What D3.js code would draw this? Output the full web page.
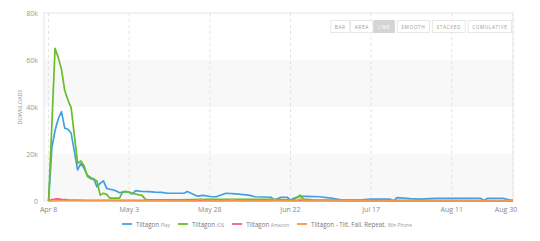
<!DOCTYPE html>
<html>
<head>
<meta charset="utf-8">
<script src="https://cdnjs.cloudflare.com/ajax/libs/d3/7.8.5/d3.min.js"></script>
<style>
  body { margin: 0; background: #fff; }
  svg { display: block; font-family: "Open Sans", "DejaVu Sans", sans-serif; }
</style>
</head>
<body>
<svg id="chart" width="540" height="241"></svg>
<script>
// day offsets from Apr 8, values in downloads
var playDays = [0,1,2,3,4,5,6,7,8,9,10,11,12,13,14,15,16,17,18,19,20,21,22,23,24,25,26,27,28,29,31,33,35,37,40,42,43,46,48,50,52,55,58,62,64,69,70,72,74,75,76,78,80,84,88,91,93,97,100,104,106,107,108,112,115,120,125,130,134,135,136,141,143,144];
var playVals = [0,22500,30000,35000,38000,31000,30500,28800,21000,13200,16000,13900,11000,10000,9400,6000,7500,8600,5400,5000,4700,4300,3500,3800,4000,3600,3000,4400,4200,4100,4000,3800,3700,3300,3300,3300,4000,2100,2400,1900,1800,3300,3000,2500,1800,1600,400,1600,1600,400,1100,2000,2000,1800,1100,400,400,500,800,800,800,0,1400,1000,800,1100,1100,1100,1100,200,1100,1100,400,300];

var iosDays = [0,1,2,3,4,5,6,7,9,10,11,12,13,14,15,16,17,18,19,22,23,24,25,26,28,29,30,31,40,50,60,70,76,77,78,79,82,90,110,144];
var iosVals = [0,32000,65000,61000,56000,47000,43000,39600,16000,17000,15000,10500,9500,9200,8500,2500,3300,2800,1200,1200,4000,4000,3800,3300,2600,2400,700,500,500,700,700,700,500,1500,2500,800,500,300,200,100];

var amazonDays = [0,1,2,3,4,5,6,8,12,20,40,80,144];
var amazonVals = [0,600,800,900,700,600,500,400,300,250,200,150,100];

var winDays = [0,5,30,46,47,48,56,57,58,69,70,71,77,78,79,100,144];
var winVals = [0,100,200,100,900,200,150,700,200,150,600,200,200,900,200,200,200];

var tickDays = [0,25,50,75,100,125,144];
var yTicks = [0,20000,40000,60000,80000];
var buttons = ["BAR","AREA","LINE","SMOOTH","STACKED","CUMULATIVE"];

var series = [
  {name: "Tiltagon", sub: "Play", days: playDays, vals: playVals, color: "#42a0e0"},
  {name: "Tiltagon", sub: "iOS", days: iosDays, vals: iosVals, color: "#66bf2a"},
  {name: "Tiltagon", sub: "Amazon", days: amazonDays, vals: amazonVals, color: "#f25f8f"},
  {name: "Tiltagon - Tilt. Fall. Repeat.", sub: "Win Phone", days: winDays, vals: winVals, color: "#f5964a"}
];

var start = new Date(2015, 3, 8);
function toDate(d) { return d3.timeDay.offset(start, d); }

var svg = d3.select("#chart");
var plotL = 44, plotR = 513, plotT = 13, plotB = 201;

var x = d3.scaleTime()
    .domain([toDate(0), toDate(144)])
    .range([48.6, 513]);
var y = d3.scaleLinear()
    .domain([0, 80000])
    .range([plotB, plotT]);

// alternating bands
for (var i = 0; i < yTicks.length - 1; i += 2) {
    svg.append("rect")
        .attr("x", plotL)
        .attr("y", y(yTicks[i + 1]))
        .attr("width", plotR - plotL)
        .attr("height", y(yTicks[i]) - y(yTicks[i + 1]))
        .attr("fill", "#f8f8f8");
}

// vertical dashed grid
svg.selectAll(".vgrid")
    .data(tickDays)
    .enter()
    .append("line")
    .attr("x1", function (d) { return x(toDate(d)); })
    .attr("x2", function (d) { return x(toDate(d)); })
    .attr("y1", plotT)
    .attr("y2", plotB)
    .attr("stroke", "#e2e2e2")
    .attr("stroke-dasharray", "3,3");

// frame
svg.append("rect")
    .attr("x", plotL)
    .attr("y", plotT)
    .attr("width", plotR - plotL)
    .attr("height", plotB - plotT)
    .attr("fill", "none")
    .attr("stroke", "#e6e6e6");

// y axis labels
svg.selectAll(".ylab")
    .data(yTicks)
    .enter()
    .append("text")
    .attr("x", 38)
    .attr("y", function (d) { return y(d) + 2.5; })
    .attr("text-anchor", "end")
    .attr("font-size", 7)
    .attr("fill", "#999")
    .text(function (d) { return d === 0 ? "0" : (d / 1000) + "k"; });

svg.append("text")
    .attr("transform", "translate(22,107) rotate(-90)")
    .attr("text-anchor", "middle")
    .attr("font-size", 5.5)
    .attr("fill", "#999")
    .text("DOWNLOADS");

// x axis labels
var fmt = d3.timeFormat("%b %-d");
svg.selectAll(".xlab")
    .data(tickDays)
    .enter()
    .append("text")
    .attr("x", function (d, i) { return x(toDate(d)) - (i === tickDays.length - 1 ? 7 : 0); })
    .attr("y", 212)
    .attr("text-anchor", "middle")
    .attr("font-size", 7)
    .attr("fill", "#888")
    .text(function (d) { return fmt(toDate(d)); });

// lines
var line = d3.line()
    .x(function (d) { return x(toDate(d[0])); })
    .y(function (d) { return y(d[1]); });

series.forEach(function (s) {
    var pts = s.days.map(function (d, i) { return [d, s.vals[i]]; });
    svg.append("path")
        .datum(pts)
        .attr("d", line)
        .attr("fill", "none")
        .attr("stroke", s.color)
        .attr("stroke-width", 1.7)
        .attr("stroke-linejoin", "round");
});

// legend
var legend = svg.append("g");
var lx = 0;
series.forEach(function (s) {
    var g = legend.append("g").attr("transform", "translate(" + lx + ",0)");
    g.append("line")
        .attr("x1", 0).attr("x2", 10)
        .attr("y1", 0).attr("y2", 0)
        .attr("stroke", s.color)
        .attr("stroke-width", 1.8);
    var t = g.append("text")
        .attr("x", 14)
        .attr("y", 2.5)
        .attr("font-size", 6.2)
        .attr("fill", "#777");
    t.append("tspan").text(s.name + " ");
    t.append("tspan").attr("font-size", 4.8).attr("fill", "#999").text(s.sub);
    lx += 14 + t.node().getComputedTextLength() + 8;
});
var lw = lx - 8;
legend.attr("transform", "translate(" + (267 - lw / 2) + ",224)");

// buttons, laid out right to left
var bx = 512;
var bg = svg.append("g");
for (var j = buttons.length - 1; j >= 0; j--) {
    var tmp = bg.append("text")
        .attr("font-size", 4.8)
        .attr("letter-spacing", 0.6)
        .text(buttons[j]);
    var w = tmp.node().getComputedTextLength() + 9;
    tmp.remove();
    bx -= w;
    var active = buttons[j] === "LINE";
    bg.append("rect")
        .attr("x", bx + 0.5)
        .attr("y", 20.5)
        .attr("width", w - 1)
        .attr("height", 12)
        .attr("fill", active ? "#d4d4d4" : "#fff")
        .attr("stroke", active ? "#d4d4d4" : "#e8e8e8");
    bg.append("text")
        .attr("x", bx + w / 2)
        .attr("y", 28.5)
        .attr("text-anchor", "middle")
        .attr("font-size", 4.8)
        .attr("letter-spacing", 0.6)
        .attr("fill", active ? "#fff" : "#999")
        .text(buttons[j]);
    if (j >= 3) bx -= 2;
}
</script>
</body>
</html>
